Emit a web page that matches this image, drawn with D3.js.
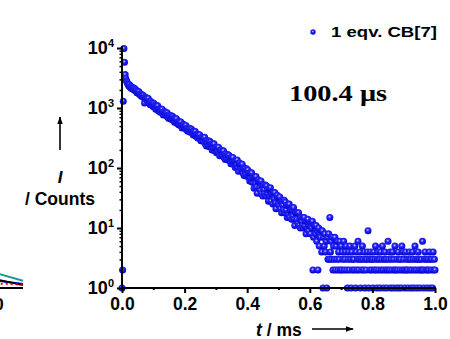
<!DOCTYPE html>
<html>
<head>
<meta charset="utf-8">
<script src="https://cdn.jsdelivr.net/npm/d3@7/dist/d3.min.js"></script>
<style>
  body { margin: 0; background: #fff; }
  svg text { font-family: Arial, "Liberation Sans", sans-serif; font-weight: bold; fill: #000; }
</style>
</head>
<body>
<div id="chart"></div>
<script>
// photon counts per 2 us channel, 1 eqv. CB[7]
const counts = [
  1, 2, 1300, 9800, 5800, 3600, 3100, 2850, 2700, 2550,
  2472, 2316, 2431, 2209, 2275, 2115, 2232, 2141, 2051, 2150,
  1969, 2073, 1936, 1957, 1797, 1910, 1781, 1860, 1673, 1705,
  1690, 1571, 1655, 1570, 1619, 1482, 1210, 1491, 1483, 1383,
  1463, 1299, 1445, 1208, 1297, 1133, 1279, 1191, 1106, 1228,
  1053, 1189, 1060, 1106, 950, 1097, 976, 1086, 900, 958,
  963, 846, 959, 881, 954, 817, 761, 863, 872, 776,
  837, 748, 837, 704, 761, 669, 760, 713, 667, 746,
  639, 723, 645, 673, 579, 669, 596, 663, 551, 587,
  592, 520, 589, 541, 585, 501, 466, 528, 534, 474,
  514, 459, 513, 432, 466, 410, 465, 436, 408, 456,
  390, 441, 394, 411, 354, 409, 365, 406, 338, 360,
  361, 316, 359, 330, 358, 306, 285, 323, 327, 291,
  322, 273, 325, 253, 284, 233, 287, 261, 236, 282,
  226, 273, 233, 250, 200, 251, 213, 253, 194, 216,
  218, 180, 219, 194, 222, 176, 160, 196, 199, 169,
  191, 162, 193, 150, 169, 138, 171, 156, 141, 168,
  134, 162, 138, 148, 118, 149, 126, 150, 115, 128,
  130, 102, 133, 113, 136, 102, 88, 117, 121, 98,
  114, 92, 116, 83, 98, 75, 99, 88, 77, 97,
  72, 93, 75, 82, 61, 83, 67, 83, 58, 67,
  68, 46, 71, 56, 72, 48, 38, 60, 63, 46,
  59, 43, 61, 37, 49, 34, 52, 44, 37, 52,
  34, 50, 38, 44, 28, 46, 34, 47, 28, 36,
  37, 25, 39, 31, 39, 26, 21, 34, 35, 25,
  32, 24, 33, 21, 27, 18, 28, 24, 20, 29,
  18, 27, 20, 24, 15, 24, 17, 25, 15, 19,
  20, 14, 20, 16, 22, 14, 11, 18, 18, 14,
  18, 12, 18, 11, 14, 10, 15, 13, 11, 15,
  10, 15, 11, 13, 8, 13, 10, 14, 9, 11,
  11, 8, 12, 10, 13, 2, 7, 11, 11, 8,
  11, 6, 9, 2, 10, 5, 8, 7, 9, 4,
  9, 1, 7, 5, 8, 4, 6, 1, 7, 3,
  8, 3, 15, 4, 6, 3, 7, 2, 5, 3,
  7, 2, 5, 3, 6, 2, 4, 3, 6, 2,
  5, 2, 4, 3, 6, 2, 3, 4, 5, 2,
  1, 3, 4, 2, 5, 3, 1, 4, 2, 3,
  3, 2, 5, 1, 4, 2, 3, 6, 2, 3,
  4, 1, 3, 2, 5, 3, 2, 4, 1, 3,
  2, 3, 4, 9, 1, 3, 2, 4, 3, 2,
  3, 1, 4, 2, 3, 5, 2, 1, 3, 4,
  2, 3, 1, 4, 2, 3, 5, 2, 1, 3,
  4, 2, 3, 1, 2, 6, 3, 2, 4, 1,
  3, 2, 4, 1, 3, 2, 5, 2, 1, 3,
  2, 4, 1, 3, 2, 3, 1, 5, 2, 4,
  3, 2, 1, 4, 2, 3, 2, 1, 3, 4,
  2, 3, 1, 2, 4, 3, 1, 2, 5, 3,
  2, 1, 3, 4, 2, 3, 1, 2, 3, 2,
  6, 2, 1, 3, 4, 2, 3, 1, 2, 3,
  2, 4, 1, 3, 2, 3, 1, 4, 2, 3,
  2
];
const channelMs = 0.002;

const xTicks = [0, 0.2, 0.4, 0.6, 0.8, 1.0];
const xMinor = [0.1, 0.3, 0.5, 0.7, 0.9];
const yTicks = [1, 10, 100, 1000, 10000];
const legendLabel = "1 eqv. CB[7]";
const lifetimeLabel = "100.4 μs";

// right edge of the neighbouring panel that is cut off on the left
const prevT = [0.9, 1.0];
const prevTeal = [0.068, 0.030];
const prevBlack = [0.040, 0.012];
const prevBlue = [0.034, 0.017];
const prevRed = [0.020, 0.014];

const width = 450, height = 339;
const svg = d3.select("#chart").append("svg")
  .attr("width", width)
  .attr("height", height);

const defs = svg.append("defs");
const grad = defs.append("radialGradient")
  .attr("id", "ball")
  .attr("cx", "45%").attr("cy", "40%").attr("r", "60%");
grad.append("stop").attr("offset", "0%").attr("stop-color", "#d0d0ff");
grad.append("stop").attr("offset", "35%").attr("stop-color", "#2a2aff");
grad.append("stop").attr("offset", "100%").attr("stop-color", "#0000c8");

const x = d3.scaleLinear().domain([0, 1]).range([122, 435]);
const y = d3.scaleLog().domain([1, 10000]).range([288, 48]);

// neighbour panel fragment
const px = d3.scaleLinear().domain([0, 1]).range([-300, 23]);
const py = d3.scaleLinear().domain([0, 1]).range([288, 48]);
const prevLine = (vals) => d3.line().x((d, i) => px(prevT[i])).y(d => py(d))(vals);
const prev = svg.append("g");
prev.append("path").attr("d", prevLine(prevTeal)).attr("fill", "none").attr("stroke", "#1a9a9a").attr("stroke-width", 2);
prev.append("path").attr("d", prevLine(prevBlue)).attr("fill", "none").attr("stroke", "#0000ff").attr("stroke-width", 2);
prev.append("path").attr("d", prevLine(prevBlack)).attr("fill", "none").attr("stroke", "#000").attr("stroke-width", 2);
prev.append("path").attr("d", prevLine(prevRed)).attr("fill", "none").attr("stroke", "#ff0000").attr("stroke-width", 2).attr("stroke-dasharray", "2,3");
prev.append("line").attr("x1", 0).attr("x2", px(1)).attr("y1", 288).attr("y2", 288).attr("stroke", "#000").attr("stroke-width", 2);
prev.append("text").attr("x", -8).attr("y", 310).attr("text-anchor", "middle").attr("font-size", 17).text("1.0");

// data points
const pts = counts.map((c, i) => ({ t: i * channelMs, c })).filter(d => d.c > 0);
svg.append("g")
  .selectAll("circle")
  .data(pts)
  .join("circle")
  .attr("cx", d => x(d.t))
  .attr("cy", d => y(d.c))
  .attr("r", 3.5)
  .attr("fill", "url(#ball)");

// x axis
const xAxis = svg.append("g")
  .attr("transform", "translate(0,288)")
  .call(d3.axisBottom(x).tickValues(xTicks).tickSize(5).tickPadding(5).tickFormat(d3.format(".1f")));
xAxis.select(".domain").attr("stroke-width", 2).attr("d", "M121,0H436");
xAxis.selectAll(".tick line").attr("stroke-width", 2);
xAxis.selectAll("text").attr("font-size", 17.5).attr("font-family", null);
svg.append("g")
  .attr("transform", "translate(0,288)")
  .call(d3.axisBottom(x).tickValues(xMinor).tickSize(2).tickFormat(""))
  .call(g => g.select(".domain").remove())
  .selectAll("line").attr("stroke-width", 2);

// y axis
const yAxis = svg.append("g")
  .attr("transform", "translate(122,0)")
  .call(d3.axisLeft(y).tickValues(yTicks).tickSize(5).tickPadding(3));
yAxis.select(".domain").attr("stroke-width", 2).attr("d", "M0,289V46");
yAxis.selectAll(".tick line").attr("stroke-width", 2);
yAxis.selectAll(".tick text")
  .attr("font-size", 18).attr("font-family", null)
  .each(function(d) {
    const t = d3.select(this).text("");
    t.append("tspan").text("10");
    t.append("tspan").attr("dy", -7).attr("font-size", 11).text(Math.round(Math.log10(d)));
  });
const yMinor = [];
yTicks.slice(0, -1).forEach(v => { for (let k = 2; k <= 9; k++) yMinor.push(v * k); });
svg.append("g")
  .attr("transform", "translate(122,0)")
  .call(d3.axisLeft(y).tickValues(yMinor).tickSize(2.5).tickFormat(""))
  .call(g => g.select(".domain").remove())
  .selectAll("line").attr("stroke-width", 1.5);

// axis titles with arrows
defs.append("marker")
  .attr("id", "arrow").attr("viewBox", "0 0 10 10")
  .attr("refX", 9).attr("refY", 5)
  .attr("markerWidth", 5).attr("markerHeight", 5)
  .attr("markerUnits", "strokeWidth")
  .attr("orient", "auto")
  .append("path").attr("d", "M0,1.5L10,5L0,8.5Z").attr("fill", "#000");

svg.append("line").attr("x1", 60).attr("x2", 60).attr("y1", 150).attr("y2", 117)
  .attr("stroke", "#000").attr("stroke-width", 1.6).attr("marker-end", "url(#arrow)");
svg.append("text").attr("x", 60).attr("y", 183).attr("text-anchor", "middle")
  .attr("font-size", 17).attr("font-style", "italic").text("I");
svg.append("text").attr("x", 60).attr("y", 205).attr("text-anchor", "middle")
  .attr("font-size", 17.5).text("/ Counts");

const xt = svg.append("text").attr("x", 256).attr("y", 336).attr("font-size", 17.5);
xt.append("tspan").attr("font-style", "italic").text("t");
xt.append("tspan").text(" / ms");
svg.append("line").attr("x1", 312).attr("x2", 353).attr("y1", 329).attr("y2", 329)
  .attr("stroke", "#000").attr("stroke-width", 1.6).attr("marker-end", "url(#arrow)");

// legend
svg.append("circle").attr("cx", 313).attr("cy", 32).attr("r", 2.7).attr("fill", "url(#ball)");
svg.append("text").attr("x", 331).attr("y", 37).attr("font-size", 14.5)
  .attr("textLength", 106).attr("lengthAdjust", "spacingAndGlyphs")
  .text(legendLabel);

// lifetime
svg.append("text").attr("x", 289).attr("y", 101)
  .attr("font-size", 23)
  .attr("textLength", 98).attr("lengthAdjust", "spacingAndGlyphs")
  .style("font-family", "'Times New Roman', 'Liberation Serif', serif")
  .text(lifetimeLabel);
</script>
</body>
</html>
